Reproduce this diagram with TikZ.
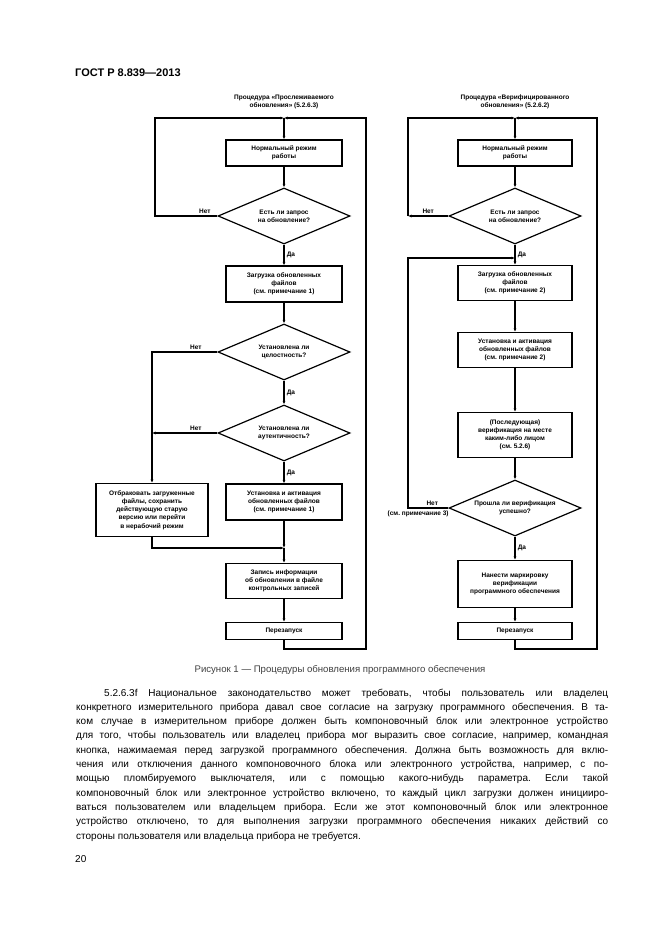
\documentclass[tikz,border=0pt]{standalone}
\usepackage{fontspec}
\setmainfont{Liberation Sans}
\usepackage{tikz}
\usetikzlibrary{arrows.meta, shapes.geometric}
\frenchspacing

\newcommand{\chartfont}{\fontsize{6.5}{8.2}\selectfont\bfseries}

\tikzset{
  block/.style={draw, line width=1.2pt, align=center, font=\chartfont, inner sep=1pt, minimum width=116pt},
  decide/.style={diamond, draw, line width=1.2pt, align=center, font=\chartfont, inner sep=0pt, aspect=2.36, minimum width=132pt, minimum height=56pt},
  conn/.style={line width=1.6pt},
  lbl/.style={font=\chartfont, inner sep=2pt},
  bodytext/.style={font=\fontsize{10}{14.3}\selectfont, inner sep=0pt, anchor=base west, align=left},
}

\begin{document}
\begin{tikzpicture}[x=1pt, y=-1pt, >={Latex[length=3.5pt, width=3pt]}]
    \fill[white] (0,0) rectangle (661,936);
    \useasboundingbox (0,0) rectangle (661,936);

    \node[anchor=base west, font=\fontsize{11}{13}\selectfont\bfseries, inner sep=0pt] (head) at (75,77) {ГОСТ Р 8.839—2013};

    \coordinate (topL) at (284,118);
    \coordinate (cornerL) at (155,118);
    \coordinate (rightL) at (366,118);
    \coordinate (botL) at (284,649);
    \coordinate (mergeL) at (284,548);
    \coordinate (sideL) at (152,433);

    \node[font=\chartfont, align=center] (titleL) at (284,102) {Процедура «Прослеживаемого\\обновления» (5.2.6.3)};
    \node[block, minimum height=26pt] (normL) at (284,153) {Нормальный режим\\работы};
    \node[decide] (askL) at (284,216) {Есть ли запрос\\на обновление?};
    \node[block, minimum height=36pt] (loadL) at (284,284) {Загрузка обновленных\\файлов\\(см. примечание 1)};
    \node[decide] (intL) at (284,352) {Установлена ли\\целостность?};
    \node[decide] (authL) at (284,433) {Установлена ли\\аутентичность?};
    \node[block, minimum height=36pt] (instL) at (284,502) {Установка и активация\\обновленных файлов\\(см. примечание 1)};
    \node[block, minimum width=112pt, minimum height=53pt] (rejL) at (152,510) {Отбраковать загруженные\\файлы, сохранить\\действующую старую\\версию или перейти\\в нерабочий режим};
    \node[block, minimum height=35pt] (logL) at (284,581) {Запись информации\\об обновлении в файле\\контрольных записей};
    \node[block, minimum height=17pt] (restartL) at (284,631) {Перезапуск};

    \draw[->, conn] (topL) -- (normL);
    \draw[->, conn] (normL) -- (askL);
    \draw[->, conn] (askL.west) -- node[lbl, above, pos=0.2] {Нет} (cornerL |- askL.west) -- (cornerL) -- (topL);
    \draw[->, conn] (askL.south) -- node[lbl, right] {Да} (loadL.north);
    \draw[->, conn] (loadL) -- (intL);
    \draw[->, conn] (intL.south) -- node[lbl, right] {Да} (authL.north);
    \draw[->, conn] (authL.south) -- node[lbl, right] {Да} (instL.north);
    \draw[->, conn] (intL.west) -- node[lbl, above, pos=0.33] {Нет} (intL.west -| rejL.north) -- (rejL.north);
    \draw[->, conn] (authL.west) -- node[lbl, above, pos=0.33] {Нет} (sideL);
    \draw[->, conn] (rejL.south) |- (mergeL);
    \draw[->, conn] (instL.south) -- (mergeL);
    \draw[->, conn] (mergeL) -- (logL.north);
    \draw[->, conn] (logL) -- (restartL);
    \draw[->, conn] (restartL.south) -- (botL) -| (rightL) -- (topL);

    \coordinate (topR) at (515,118);
    \coordinate (cornerR) at (408,118);
    \coordinate (rightR) at (597,118);
    \coordinate (botR) at (515,649);
    \coordinate (sideR) at (408,216);
    \coordinate (mergeR) at (515,258);
    \coordinate (backR) at (408,508);

    \node[font=\chartfont, align=center] (titleR) at (515,102) {Процедура «Верифицированного\\обновления» (5.2.6.2)};
    \node[block, minimum width=114pt, minimum height=26pt] (normR) at (515,153) {Нормальный режим\\работы};
    \node[decide] (askR) at (515,216) {Есть ли запрос\\на обновление?};
    \node[block, minimum width=114pt, minimum height=35pt] (loadR) at (515,283) {Загрузка обновленных\\файлов\\(см. примечание 2)};
    \node[block, minimum width=114pt, minimum height=35pt] (instR) at (515,350) {Установка и активация\\обновленных файлов\\(см. примечание 2)};
    \node[block, minimum width=114pt, minimum height=45pt] (verR) at (515,435) {(Последующая)\\верификация на месте\\каким-либо лицом\\(см. 5.2.6)};
    \node[decide] (okR) at (515,508) {Прошла ли верификация\\успешно?};
    \node[block, minimum width=114pt, minimum height=47pt] (markR) at (515,584) {Нанести маркировку\\верификации\\программного обеспечения};
    \node[block, minimum width=114pt, minimum height=17pt] (restartR) at (515,631) {Перезапуск};

    \draw[->, conn] (topR) -- (normR);
    \draw[->, conn] (normR) -- (askR);
    \draw[->, conn] (askR.west) -- node[lbl, above] {Нет} (sideR);
    \draw[->, conn] (sideR) -- (cornerR) -- (topR);
    \draw[->, conn] (askR.south) -- node[lbl, right] {Да} (loadR.north);
    \draw[->, conn] (loadR) -- (instR);
    \draw[->, conn] (instR) -- (verR);
    \draw[->, conn] (verR) -- (okR);
    \draw[->, conn] (okR.west) -- node[lbl, above, pos=0.4] {Нет} node[lbl, below, pos=0.75] {(см. примечание 3)} (backR) |- (mergeR);
    \draw[->, conn] (okR.south) -- node[lbl, right] {Да} (markR.north);
    \draw[->, conn] (markR) -- (restartR);
    \draw[->, conn] (restartR.south) -- (botR) -| (rightR) -- (topR);

    \node[font=\fontsize{9.6}{11}\selectfont, text=black!75] (cap) at (340,670) {Рисунок 1 — Процедуры обновления программного обеспечения};

    \node[bodytext] (para) at (76,839) {%
      \hspace*{28pt}\makebox[504pt][s]{5.2.6.3f Национальное законодательство может требовать, чтобы пользователь или владелец}\\
      \makebox[532pt][s]{конкретного измерительного прибора давал свое согласие на загрузку программного обеспечения. В та-}\\
      \makebox[532pt][s]{ком случае в измерительном приборе должен быть компоновочный блок или электронное устройство}\\
      \makebox[532pt][s]{для того, чтобы пользователь или владелец прибора мог выразить свое согласие, например, командная}\\
      \makebox[532pt][s]{кнопка, нажимаемая перед загрузкой программного обеспечения. Должна быть возможность для вклю-}\\
      \makebox[532pt][s]{чения или отключения данного компоновочного блока или электронного устройства, например, с по-}\\
      \makebox[532pt][s]{мощью пломбируемого выключателя, или с помощью какого-нибудь параметра. Если такой}\\
      \makebox[532pt][s]{компоновочный блок или электронное устройство включено, то каждый цикл загрузки должен иницииро-}\\
      \makebox[532pt][s]{ваться пользователем или владельцем прибора. Если же этот компоновочный блок или электронное}\\
      \makebox[532pt][s]{устройство отключено, то для выполнения загрузки программного обеспечения никаких действий со}\\
      стороны пользователя или владельца прибора не требуется.};

    \node[anchor=base west, font=\fontsize{10}{12}\selectfont, inner sep=0pt] (pnum) at (75,862) {20};
\end{tikzpicture}
\end{document}
